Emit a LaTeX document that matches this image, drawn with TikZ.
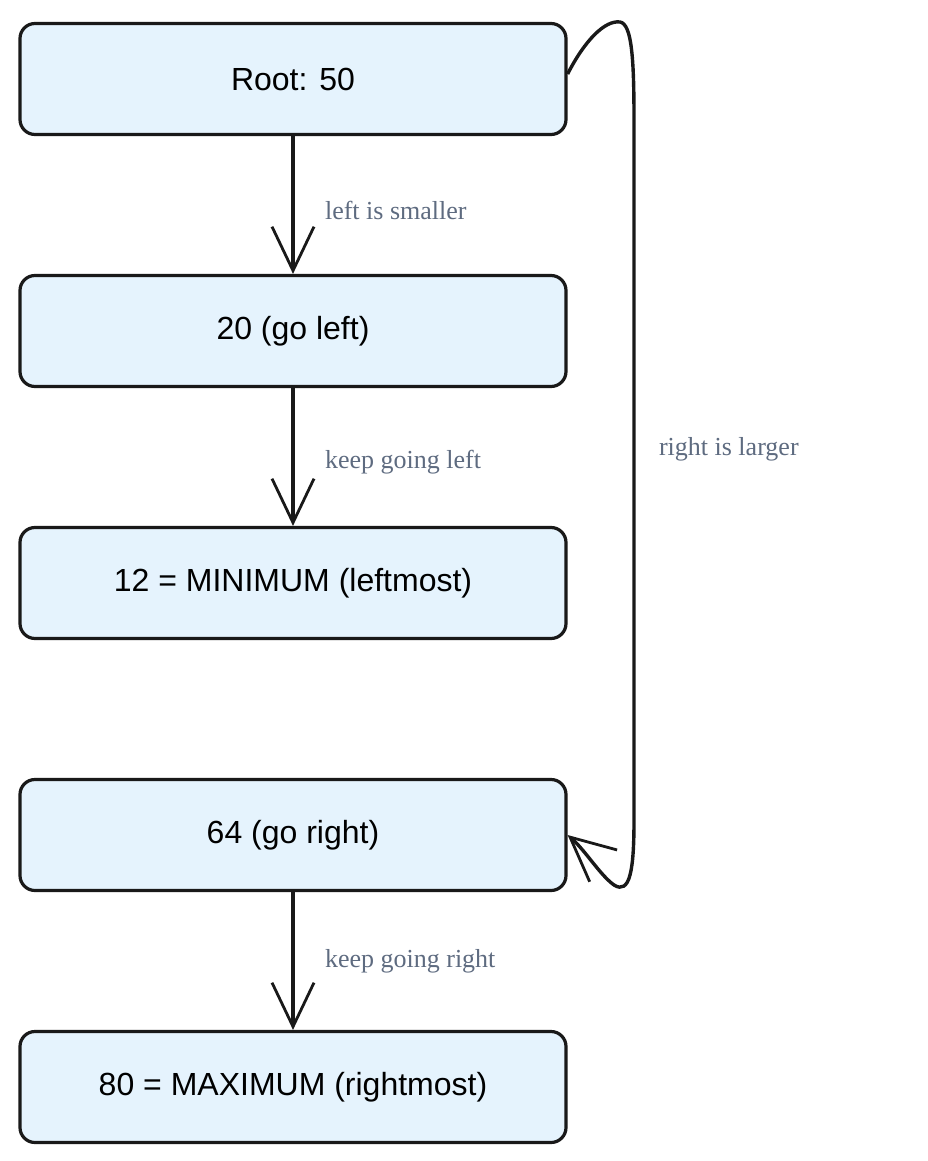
\documentclass[tikz,border=0pt]{standalone}
\usepackage{fontspec}
\setmainfont{Liberation Sans}
\newfontfamily\lblfont{Liberation Serif}
\usetikzlibrary{arrows.meta}
\definecolor{boxfill}{HTML}{E5F3FD}
\definecolor{lblcol}{HTML}{5E6B80}
\begin{document}
\begin{tikzpicture}[x=1pt,y=-1pt,
  box/.style={draw=black!90,line width=3.2pt,fill=boxfill,rounded corners=15pt,minimum width=546pt,minimum height=111pt,font=\fontsize{32}{38}\selectfont},
  arr/.style={line width=3.4pt,draw=black!90,-{Straight Barb[length=44pt,width=42pt,line width=2.8pt]}},
  lbl/.style={text=lblcol,font=\lblfont\fontsize{26}{31}\selectfont,anchor=west}]
\useasboundingbox (0,0) rectangle (928,1161);
\node[box] (a) at (293,79) {Root: 50};
\node[box] (b) at (293,331) {20 (go left)};
\node[box] (c) at (293,583) {12 = MINIMUM (leftmost)};
\node[box] (d) at (293,835) {64 (go right)};
\node[box] (e) at (293,1087) {80 = MAXIMUM (rightmost)};
\draw[arr] (a.south) -- (b.north) node[lbl,midway,xshift=27pt,yshift=-5pt] {left is smaller};
\draw[arr] (b.south) -- (c.north) node[lbl,midway,xshift=27pt,yshift=-5pt] {keep going left};
\draw[arr] (d.south) -- (e.north) node[lbl,midway,xshift=27pt,yshift=0pt] {keep going right};
\draw[arr] (a.east) ++(0,-5) .. controls (585,40) and (605,20) .. (620,22)
  .. controls (632,24) and (634,60) .. (634,120)
  -- (634,820) node[lbl,pos=0.47,xshift=20pt] {right is larger}
  .. controls (634,870) and (630,895) .. (614,885)
  .. controls (600,875) and (585,850) .. (d.east);
\end{tikzpicture}
\end{document}
